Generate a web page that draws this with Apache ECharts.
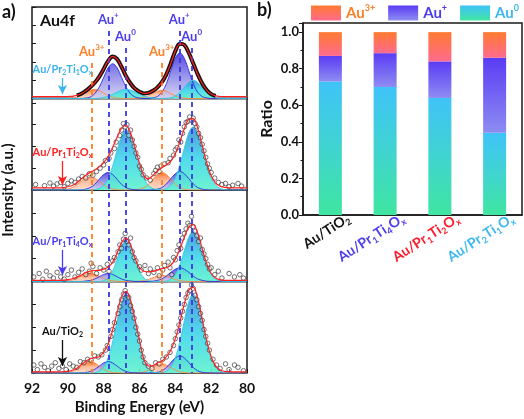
<!DOCTYPE html>
<html><head><meta charset="utf-8">
<script src="https://cdn.jsdelivr.net/npm/echarts@6/dist/echarts.min.js"></script>
<style>html,body{margin:0;padding:0;background:#fff}#c{width:524px;height:419px}</style>
</head><body><div id="c"></div>
<script>
// ===== DATA =====
// binding energy grid (eV) for the XPS curves
const energies = [92,90.5,90.25,90,89.75,89.5,89.25,89,88.75,88.5,88.25,88,87.75,87.5,87.25,87,86.75,86.5,86.25,86,85.75,85.5,85.25,85,84.75,84.5,84.25,84,83.75,83.5,83.25,83,82.75,82.5,82.25,82,81.75,81.5,81.25,81,80];

// panel 1: Au/Pr2Ti1Ox
const p1Au3 = [0,0,0,.01,.02,.07,.16,.30,.44,.50,.44,.30,.16,.07,.02,.01,0,0,0,.02,.06,.15,.27,.40,.45,.40,.27,.15,.06,.02,0,0,0,0,0,0,0,0,0,0,0];
const p1AuP = [0,0,0,0,0,0,0,.02,.08,.26,.62,1.15,1.68,1.9,1.68,1.15,.62,.26,.08,.02,0,0,.03,.11,.34,.81,1.52,2.2,2.5,2.2,1.52,.81,.34,.11,.03,0,0,0,0,0,0];
const p1Au0 = [0,0,0,0,0,0,0,0,0,0,.02,.06,.12,.23,.35,.46,.5,.46,.35,.23,.12,.06,.02,0,0,.01,.04,.14,.33,.61,.88,1.0,.88,.61,.33,.14,.04,.01,0,0,0];
const p1Fit = [.1,.1,.1,.11,.12,.17,.26,.42,.62,.86,1.18,1.61,2.06,2.30,2.15,1.72,1.22,.82,.53,.37,.28,.31,.42,.61,.89,1.32,1.93,2.59,2.99,2.93,2.50,1.91,1.32,.82,.46,.24,.14,.11,.1,.1,.1];

// panel 2: Au/Pr1Ti2Ox
const p2Au3 = [0,0,.01,.05,.11,.24,.40,.54,.6,.54,.40,.24,.11,.05,.01,0,0,0,.01,.04,.11,.26,.49,.71,.8,.71,.49,.26,.11,.04,.01,0,0,0,0,0,0,0,0,0,0];
const p2AuP = [0,0,0,0,0,0,.01,.04,.11,.26,.49,.71,.8,.71,.49,.26,.11,.04,.01,0,0,0,.01,.04,.11,.28,.52,.75,.85,.75,.52,.28,.11,.04,.01,0,0,0,0,0,0];
const p2Au0 = [0,0,0,0,0,0,0,0,0,.02,.07,.21,.53,1.09,1.82,2.48,2.75,2.48,1.82,1.09,.53,.21,.07,.02,.02,.07,.22,.55,1.15,1.92,2.62,2.9,2.62,1.92,1.15,.55,.22,.07,.02,0,0];
const p2Fit = [.1,.1,.11,.15,.21,.34,.51,.68,.81,.92,1.06,1.26,1.54,1.95,2.42,2.84,2.96,2.62,1.94,1.23,.65,.52,.67,.87,1.03,1.16,1.33,1.66,2.21,2.81,3.25,3.28,2.83,2.06,1.26,.65,.32,.17,.12,.1,.1];
const p2Points = [[91.8,.25],[91.3,.2],[91.0,.32],[90.8,.18],[90.6,.28],[90.4,.35],[90.2,.15],[90.0,.3],[89.8,.42],[89.6,.35],[89.4,.5],[89.2,.62],[89.0,.55],[88.8,.75],[88.6,.68],[88.4,.85],[88.2,1.0],[88.0,1.15],[87.9,1.35],[87.7,1.45],[87.6,1.7],[87.4,1.9],[87.3,2.2],[87.1,2.5],[87.0,2.75],[86.9,3.05],[86.8,2.9],[86.7,3.0],[86.6,2.5],[86.5,2.75],[86.4,2.3],[86.3,2.0],[86.2,1.7],[86.1,1.5],[86.0,1.1],[85.9,.95],[85.8,.7],[85.6,.55],[85.4,.45],[85.2,.75],[85.1,.9],[85.0,1.05],[84.9,.85],[84.8,1.1],[84.6,1.2],[84.4,1.25],[84.3,1.45],[84.1,1.6],[84.0,1.85],[83.9,1.95],[83.8,2.3],[83.7,2.2],[83.6,2.6],[83.5,2.9],[83.4,3.1],[83.3,3.15],[83.2,3.35],[83.1,3.2],[83.0,3.3],[82.9,3.05],[82.8,2.9],[82.7,2.6],[82.6,2.4],[82.5,2.1],[82.4,1.8],[82.3,1.5],[82.2,1.2],[82.1,1.0],[82.0,.8],[81.8,.55],[81.6,.35],[81.4,.25],[81.2,.3],[81.0,.15],[80.8,.22],[80.5,.3],[80.3,.18]];

// panel 3: Au/Pr1Ti4Ox
const p3Au3 = [0,0,.01,.03,.07,.14,.23,.32,.35,.32,.23,.14,.07,.03,.01,0,0,0,0,.01,.04,.09,.16,.24,.27,.24,.16,.09,.04,.01,0,0,0,0,0,0,0,0,0,0,0];
const p3AuP = [0,0,0,0,0,0,0,.02,.05,.11,.21,.31,.35,.31,.21,.11,.05,.02,0,0,0,0,.01,.05,.11,.24,.40,.54,.6,.54,.40,.24,.11,.05,.01,0,0,0,0,0,0];
const p3Au0 = [0,0,0,0,0,0,0,0,0,0,0,.04,.15,.45,.97,1.54,1.8,1.54,.97,.45,.15,.04,.01,0,0,.02,.10,.30,.72,1.34,1.94,2.2,1.94,1.34,.72,.30,.10,.02,0,0,0];
const p3Fit = [.05,.05,.06,.08,.12,.19,.28,.39,.45,.48,.49,.54,.62,.84,1.24,1.70,1.90,1.61,1.02,.6,.45,.42,.44,.5,.56,.6,.72,.98,1.41,1.94,2.39,2.49,2.10,1.44,.78,.35,.15,.07,.05,.05,.05];
const p3Points = [[91.9,.2],[91.6,.35],[91.4,.1],[91.2,.45],[91.0,.25],[90.8,.15],[90.6,.4],[90.4,.2],[90.2,.1],[90.0,.3],[89.8,.5],[89.6,.2],[89.4,.4],[89.2,.55],[89.0,.3],[88.8,.45],[88.7,.8],[88.6,.65],[88.4,.35],[88.2,.6],[88.0,.5],[87.8,.75],[87.7,.45],[87.5,.9],[87.4,1.05],[87.2,1.3],[87.1,1.6],[87.0,1.45],[86.9,1.85],[86.8,2.1],[86.7,1.75],[86.6,1.6],[86.5,1.9],[86.4,1.3],[86.3,1.05],[86.2,.9],[86.0,.65],[85.9,.5],[85.7,.7],[85.5,.35],[85.4,.55],[85.2,.4],[85.0,.6],[84.9,.25],[84.7,.5],[84.6,.7],[84.4,.85],[84.3,.6],[84.2,.3],[84.1,1.05],[84.0,.95],[83.9,1.35],[83.8,1.6],[83.7,1.45],[83.6,1.9],[83.5,2.1],[83.4,2.3],[83.3,2.55],[83.2,2.45],[83.1,2.85],[83.0,2.4],[82.9,2.2],[82.8,2.0],[82.7,1.75],[82.6,1.9],[82.5,1.4],[82.4,1.2],[82.3,1.0],[82.2,.75],[82.1,.55],[82.0,.6],[81.8,.3],[81.6,.45],[81.4,.15],[81.0,.35],[80.7,.2],[80.4,.3],[80.2,.15]];

// panel 4: Au/TiO2
const p4Au3 = [0,0,.01,.02,.07,.16,.30,.44,.5,.44,.30,.16,.07,.02,.01,0,0,0,0,.02,.05,.13,.24,.35,.4,.35,.24,.13,.05,.02,0,0,0,0,0,0,0,0,0,0,0];
const p4AuP = [0,0,0,0,0,0,.01,.02,.07,.16,.30,.44,.5,.44,.30,.16,.07,.02,.01,0,0,0,.01,.03,.10,.24,.46,.66,.75,.66,.46,.24,.10,.03,.01,0,0,0,0,0,0];
const p4Au0 = [0,0,0,0,0,0,0,0,0,.02,.08,.26,.66,1.36,2.28,3.11,3.45,3.11,2.28,1.36,.5,.15,.04,.01,.02,.08,.26,.66,1.36,2.28,3.11,3.45,3.11,2.28,1.36,.66,.26,.08,.02,0,0];
const p4Fit = [.05,.05,.06,.07,.12,.21,.36,.51,.62,.67,.71,.91,1.27,1.87,2.64,3.32,3.57,3.18,2.34,1.43,.6,.3,.32,.44,.52,.72,1.01,1.50,2.21,3.01,3.62,3.74,3.26,2.36,1.42,.71,.31,.13,.07,.05,.05];
const p4Points = [[91.9,.35],[91.7,.15],[91.5,.4],[91.3,.25],[91.1,.1],[90.9,.3],[90.7,.45],[90.5,.2],[90.3,.3],[90.1,.15],[89.9,.4],[89.7,.3],[89.5,.25],[89.3,.5],[89.1,.45],[88.9,.6],[88.7,.55],[88.5,.75],[88.3,.7],[88.1,.8],[87.9,1.0],[87.8,1.2],[87.6,1.6],[87.5,1.9],[87.4,2.2],[87.2,2.6],[87.1,2.9],[87.0,3.2],[86.9,3.45],[86.8,3.6],[86.7,3.4],[86.6,3.3],[86.5,2.95],[86.4,2.7],[86.3,2.4],[86.2,2.0],[86.1,1.7],[86.0,1.4],[85.9,1.0],[85.8,.7],[85.7,.45],[85.5,.3],[85.3,.2],[85.1,.45],[84.9,.4],[84.7,.6],[84.5,.7],[84.3,.9],[84.1,1.2],[84.0,1.5],[83.9,1.8],[83.8,2.1],[83.7,2.4],[83.6,2.7],[83.5,3.0],[83.4,3.3],[83.3,3.5],[83.2,3.6],[83.1,3.85],[83.0,3.7],[82.9,3.4],[82.8,3.2],[82.7,2.9],[82.6,2.6],[82.5,2.3],[82.4,1.9],[82.3,1.6],[82.2,1.3],[82.1,1.0],[81.9,.6],[81.7,.35],[81.5,.2],[81.2,.4],[81.0,.15],[80.7,.35],[80.5,.25],[80.2,.1]];

const sampleNames = ['Au/Pr2Ti1Ox','Au/Pr1Ti2Ox','Au/Pr1Ti4Ox','Au/TiO2'];
const xTicks = [92,90,88,86,84,82,80];

// dashed reference lines (binding energy, eV)
const au3Lines = [88.67, 84.76];
const auPLines = [87.74, 83.78];
const au0Lines = [86.79, 83.09];

// right panel: ratios
const categories = ['Au/TiO2','Au/Pr1Ti4Ox','Au/Pr1Ti2Ox','Au/Pr2Ti1Ox'];
const ratioAu0 = [0.73, 0.70, 0.64, 0.45];
const ratioAuP = [0.14, 0.185, 0.20, 0.41];
const ratioAu3 = [0.13, 0.115, 0.16, 0.14];
const yTicksRatio = [0, 0.2, 0.4, 0.6, 0.8, 1.0];

// ===== STYLE / LAYOUT =====
const FONT = 'Lato';
const C3 = '#ff7f27', CP = '#4b3cf0', C0 = '#3cb8f0';
const catColors = ['#111111', '#4b3cf0', '#ff1a2a', '#3cb8f0'];
const sampleColors = ['#3ab4ec', '#ff2020', '#4b3cf0', '#111111'];
const LG = (stops) => new echarts.graphic.LinearGradient(0,0,0,1, stops.map((c,i)=>({offset:i/(stops.length-1), color:c})));

const panelTop = [7, 98.5, 190, 281.5], panelH = 91.5;
const panelMax = [5, 4.2, 4, 4];
const panels = [
  {au3:p1Au3, auP:p1AuP, au0:p1Au0, fit:p1Fit, pts:null},
  {au3:p2Au3, auP:p2AuP, au0:p2Au0, fit:p2Fit, pts:p2Points},
  {au3:p3Au3, auP:p3AuP, au0:p3Au0, fit:p3Fit, pts:p3Points},
  {au3:p4Au3, auP:p4AuP, au0:p4Au0, fit:p4Fit, pts:p4Points}
];

function subMarkup(txt, k){
  let out = '', buf = '';
  for (let i = 0; i < txt.length; i++){
    const ch = txt[i];
    const isSub = /\d/.test(ch) || (ch === 'x' && txt[i-1] === 'O');
    if (isSub){ if (buf){ out += '{m'+k+'|'+buf+'}'; buf=''; } out += '{s'+k+'|'+ch+'}'; }
    else buf += ch;
  }
  if (buf) out += '{m'+k+'|'+buf+'}';
  return out;
}
function subRich(colors, fs, ss, lh){
  const r = {};
  colors.forEach((c,k)=>{
    r['m'+k] = {color:c, fontFamily:FONT, fontWeight:'bold', fontSize:fs, lineHeight:lh};
    r['s'+k] = {color:c, fontFamily:FONT, fontWeight:'bold', fontSize:ss, lineHeight:Math.round(ss*1.3), verticalAlign:'bottom'};
  });
  return r;
}

const grids = [], xAxes = [], yAxes = [], series = [];
const L = 32, R = 524 - 247;

panels.forEach((p, i) => {
  grids.push({left:L, right:R, top:panelTop[i], height:panelH, show:true, borderColor:'#1a1a1a', borderWidth:1.5, outerBoundsMode:'none'});
  const last = i === 3;
  xAxes.push({
    gridIndex:i, type:'value', min:80, max:92, inverse:true, interval:2,
    axisLine:{show:false},
    axisTick:{show:last, inside:true, length:4, lineStyle:{color:'#1a1a1a', width:1}},
    minorTick:{show:last, splitNumber:2, length:4, lineStyle:{color:'#1a1a1a', width:1}},
    axisLabel:{show:last, color:'#111', fontFamily:FONT, fontWeight:'bold', fontSize:14, margin:8},
    splitLine:{show:false}, minorSplitLine:{show:false},
    name: last ? 'Binding Energy (eV)' : '', nameLocation:'middle', nameGap:27,
    nameTextStyle:{color:'#111', fontFamily:FONT, fontWeight:'bold', fontSize:15}
  });
  yAxes.push({
    gridIndex:i, type:'value', min:0, max:panelMax[i], interval:1,
    axisLine:{show:false}, axisLabel:{show:false}, splitLine:{show:false},
    axisTick:{show:true, inside:true, length:4, lineStyle:{color:'#1a1a1a', width:1}}
  });
  const mk = (arr) => energies.map((e,k)=>[e, arr[k]]);
  const comp = (name, arr, line, grad) => ({
    name, type:'line', xAxisIndex:i, yAxisIndex:i, data:mk(arr), smooth:0.35, showSymbol:false, symbol:'none',
    lineStyle:{color:line, width:0.9}, areaStyle:{color:grad, opacity:0.9}, z:2, silent:true
  });
  series.push(comp('p'+i+'-au3', p.au3, '#ff8a4a', LG(['#ff6a2a','#ffb995','#ffd9c8'])));
  series.push(comp('p'+i+'-auP', p.auP, '#2f2fe0', LG(['#4535e0','#8d88e8','#d2d2f2'])));
  series.push(comp('p'+i+'-au0', p.au0, '#33c8e4', LG(['#3a8fd8','#3fd6ea','#5df2cc'])));
  if (p.pts){
    series.push({name:'p'+i+'-pts', type:'scatter', xAxisIndex:i, yAxisIndex:i, data:p.pts, symbol:'circle', symbolSize:4.5,
      itemStyle:{color:'rgba(255,255,255,0.35)', borderColor:'#222', borderWidth:0.8}, z:4, silent:true});
  } else {
    series.push({name:'p'+i+'-data', type:'line', xAxisIndex:i, yAxisIndex:i, data:mk(p.fit).slice(5,37), smooth:0.35,
      showSymbol:false, symbol:'none', lineStyle:{color:'#111', width:4}, z:4, silent:true});
  }
  series.push({name:'p'+i+'-fit', type:'line', xAxisIndex:i, yAxisIndex:i, data:mk(p.fit), smooth:0.35, showSymbol:false, symbol:'none',
    lineStyle:{color:'#ff2020', width:1.2}, z:5, silent:true});
});

// overlay grid for dashed lines / arrows spanning all 4 panels
const OV = 4;
grids.push({left:L, right:R, top:7, bottom:419-373, outerBoundsMode:'none'});
xAxes.push({gridIndex:OV, type:'value', min:80, max:92, inverse:true, show:false});
yAxes.push({gridIndex:OV, type:'value', min:0, max:366, axisLine:{show:false}, axisTick:{show:false}, axisLabel:{show:false}, splitLine:{show:false},
  name:'Intensity (a.u.)', nameLocation:'middle', nameGap:16, nameTextStyle:{color:'#111', fontFamily:FONT, fontWeight:'bold', fontSize:15}});

const supRich = {
  a3:{color:C3, fontFamily:FONT, fontWeight:'bold', fontSize:13, lineHeight:18},
  u3:{color:C3, fontFamily:FONT, fontWeight:'bold', fontSize:8, lineHeight:10, verticalAlign:'top'},
  aP:{color:CP, fontFamily:FONT, fontWeight:'bold', fontSize:13, lineHeight:18},
  uP:{color:CP, fontFamily:FONT, fontWeight:'bold', fontSize:8, lineHeight:10, verticalAlign:'top'}
};
const dashItem = (e, top, color, text) => [
  {coord:[e, top], lineStyle:{color, type:[5,4], width:1.8}, label:{show:true, position:'start', distance:2, formatter:text, rich:supRich}},
  {coord:[e, 0]}
];
const dashData = [];
au3Lines.forEach(e => dashData.push(dashItem(e, 310, C3, '{a3|Au}{u3|3+}')));
auPLines.forEach(e => dashData.push(dashItem(e, 342, '#3a38e0', '{aP|Au}{uP|+}')));
au0Lines.forEach(e => dashData.push(dashItem(e, 325, '#3a38e0', '{aP|Au}{uP|0}')));

const arrowSpans = [[295,279],[212,188],[123,98],[33,7]];
const sRich = subRich(sampleColors, 11, 7, 14);
sampleNames.forEach((n, i) => {
  dashData.push([
    {coord:[90.3, arrowSpans[i][0]], symbol:'none', lineStyle:{color:sampleColors[i], type:'solid', width:1.3},
     label:{show:true, position:'start', distance:2, formatter:subMarkup(n, i), rich:sRich}},
    {coord:[90.3, arrowSpans[i][1]], symbol:'arrow', symbolSize:[7,9]}
  ]);
});

series.push({name:'overlay', type:'scatter', xAxisIndex:OV, yAxisIndex:OV, data:[[80,0]], symbolSize:0, silent:true, z:3,
  markLine:{silent:true, symbol:['none','none'], animation:false, data:dashData}});

// bar chart grid
const BG = 5;
grids.push({left:303, right:2, top:23, bottom:419-215, show:true, borderColor:'#1a1a1a', borderWidth:1.5, outerBoundsMode:'none'});
xAxes.push({gridIndex:BG, type:'category', data:categories, axisLine:{lineStyle:{color:'#1a1a1a', width:1.5}}, axisTick:{show:false}, axisLabel:{show:false}});
yAxes.push({gridIndex:BG, type:'value', min:0, max:1.05, interval:0.2,
  axisLine:{show:true, lineStyle:{color:'#1a1a1a', width:1.5}},
  axisTick:{show:true, length:4, lineStyle:{color:'#1a1a1a'}},
  minorTick:{show:true, splitNumber:2, length:2.5, lineStyle:{color:'#1a1a1a'}},
  splitLine:{show:false},
  axisLabel:{showMaxLabel:false, margin:4, color:'#111', fontFamily:FONT, fontWeight:'bold', fontSize:13,
    formatter:(v)=> yTicksRatio.some(t=>Math.abs(t-v)<1e-6) ? v.toFixed(1) : ''},
  name:'Ratio', nameLocation:'middle', nameGap:28, nameTextStyle:{color:'#111', fontFamily:FONT, fontWeight:'bold', fontSize:16}});

// shifted grid carrying the rotated category labels
const LBG = 6;
grids.push({left:321, width:219, top:23, bottom:419-215, outerBoundsMode:'none'});
const cRich = subRich(catColors, 14, 9, 18);
xAxes.push({gridIndex:LBG, type:'category', data:categories, axisLine:{show:false}, axisTick:{show:false},
  axisLabel:{rotate:33, margin:2, interval:0, formatter:(v, idx)=>subMarkup(v, idx), rich:cRich}});
yAxes.push({gridIndex:LBG, type:'value', show:false, min:0, max:1});

const bar = (name, data, grad) => ({name, type:'bar', stack:'r', xAxisIndex:BG, yAxisIndex:BG, data, barWidth:'42%', itemStyle:{color:grad}, silent:true});
series.push(bar('Au0', ratioAu0, LG(['#3fc3f8','#40d4d0','#3fe6a0'])));
series.push(bar('Au+', ratioAuP, LG(['#5a3cf4','#8e8cf2'])));
series.push(bar('Au3+', ratioAu3, LG(['#ff7a30','#ff6b8e'])));

const legendNames = ['Au3+','Au+','Au0'];
const legendColors = [C3, CP, C0];
const lRich = {};
legendColors.forEach((c,k)=>{
  lRich['m'+k] = {color:c, fontFamily:FONT, fontWeight:'bold', fontSize:15, lineHeight:18};
  lRich['u'+k] = {color:c, fontFamily:FONT, fontWeight:'bold', fontSize:9, lineHeight:10, verticalAlign:'top'};
});

const option = {
  animation:false,
  backgroundColor:'#fff',
  grid:grids, xAxis:xAxes, yAxis:yAxes, series,
  legend:{data:legendNames, left:311, top:4, width:240, padding:0, itemWidth:30, itemHeight:15, itemGap:13, icon:'rect', selectedMode:false,
    formatter:(n)=>{const k=legendNames.indexOf(n); return '{m'+k+'|Au}{u'+k+'|'+n.slice(2)+'}';},
    textStyle:{rich:lRich}},
  graphic:[
    {type:'text', left:2, top:3, style:{text:'a)', fill:'#111', font:'bold 18px Lato'}},
    {type:'text', left:257, top:1, style:{text:'b)', fill:'#111', font:'bold 18px Lato'}},
    {type:'text', left:40, top:13, style:{text:'Au4f', fill:'#111', font:'bold 16px Lato'}}
  ]
};
const chart = echarts.init(document.getElementById('c'));
chart.setOption(option);
</script></body></html>
